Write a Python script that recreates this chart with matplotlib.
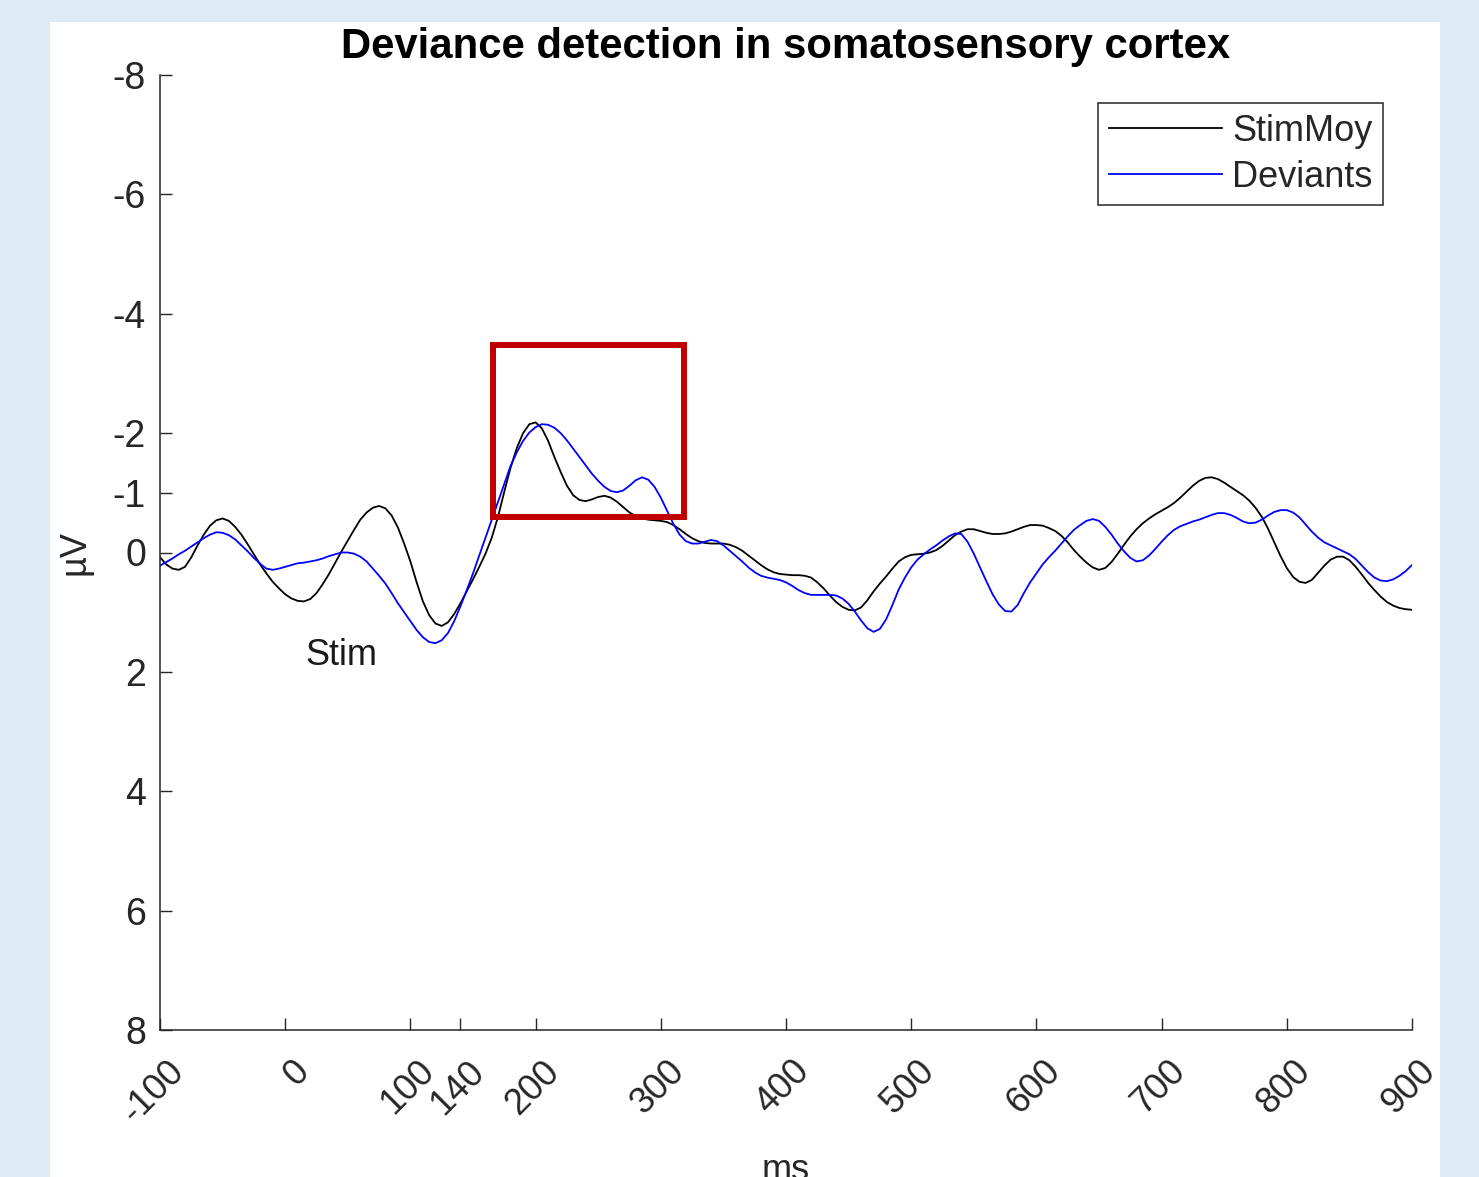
import numpy as np
import matplotlib
matplotlib.use('Agg')
import matplotlib.pyplot as plt
import matplotlib.transforms as mtransforms
from matplotlib.patches import Rectangle

plt.rcParams['font.family'] = ['Liberation Sans', 'DejaVu Sans']
plt.rcParams['axes.unicode_minus'] = False

# time axis (ms) and averaged potentials (uV), one value every 5 ms
t = np.arange(-100, 901, 5)

stim_moy = [0.08, 0.20, 0.27, 0.29, 0.24, 0.08, -0.12, -0.30, -0.45, -0.54,
            -0.57, -0.53, -0.43, -0.30, -0.14, 0.03, 0.20, 0.35, 0.49, 0.60,
            0.70, 0.77, 0.81, 0.82, 0.78, 0.68, 0.53, 0.36, 0.17, -0.02,
            -0.20, -0.38, -0.55, -0.67, -0.75, -0.78, -0.74, -0.62, -0.42, -0.15,
            0.15, 0.50, 0.82, 1.05, 1.19, 1.23, 1.17, 1.03, 0.85, 0.65,
            0.45, 0.24, 0.02, -0.25, -0.60, -1.02, -1.42, -1.75, -2.00, -2.15,
            -2.18, -2.08, -1.87, -1.60, -1.35, -1.12, -0.96, -0.88, -0.86, -0.89,
            -0.93, -0.95, -0.92, -0.85, -0.76, -0.67, -0.61, -0.57, -0.55, -0.54,
            -0.53, -0.51, -0.46, -0.39, -0.31, -0.24, -0.19, -0.16, -0.15, -0.15,
            -0.15, -0.13, -0.09, -0.03, 0.05, 0.13, 0.21, 0.28, 0.33, 0.36,
            0.37, 0.38, 0.38, 0.39, 0.42, 0.50, 0.60, 0.72, 0.83, 0.91,
            0.96, 0.97, 0.92, 0.80, 0.65, 0.52, 0.40, 0.27, 0.15, 0.08,
            0.04, 0.03, 0.02, 0.00, -0.04, -0.11, -0.20, -0.29, -0.35, -0.39,
            -0.39, -0.36, -0.33, -0.31, -0.31, -0.32, -0.35, -0.39, -0.43, -0.46,
            -0.46, -0.45, -0.41, -0.36, -0.28, -0.17, -0.04, 0.07, 0.17, 0.25,
            0.29, 0.26, 0.16, 0.02, -0.13, -0.27, -0.39, -0.49, -0.57, -0.64,
            -0.70, -0.76, -0.83, -0.92, -1.02, -1.12, -1.20, -1.25, -1.26, -1.23,
            -1.17, -1.10, -1.03, -0.96, -0.87, -0.75, -0.60, -0.40, -0.17, 0.06,
            0.26, 0.41, 0.49, 0.51, 0.46, 0.34, 0.22, 0.12, 0.07, 0.07,
            0.13, 0.24, 0.37, 0.51, 0.63, 0.74, 0.83, 0.89, 0.93, 0.95,
            0.96]

deviants = [0.22, 0.16, 0.10, 0.03, -0.03, -0.10, -0.17, -0.24, -0.30, -0.34,
            -0.33, -0.29, -0.22, -0.12, -0.02, 0.09, 0.19, 0.27, 0.29, 0.27,
            0.24, 0.21, 0.18, 0.17, 0.15, 0.13, 0.10, 0.06, 0.03, 0.00,
            0.00, 0.02, 0.07, 0.15, 0.27, 0.39, 0.52, 0.68, 0.85, 1.00,
            1.15, 1.30, 1.42, 1.50, 1.52, 1.47, 1.35, 1.15, 0.90, 0.63,
            0.35, 0.05, -0.25, -0.55, -0.85, -1.15, -1.45, -1.68, -1.87, -2.01,
            -2.10, -2.15, -2.14, -2.09, -2.00, -1.88, -1.74, -1.60, -1.46, -1.32,
            -1.20, -1.10, -1.03, -1.01, -1.04, -1.12, -1.21, -1.26, -1.22, -1.10,
            -0.92, -0.70, -0.48, -0.30, -0.19, -0.15, -0.15, -0.18, -0.21, -0.19,
            -0.12, -0.03, 0.06, 0.15, 0.25, 0.33, 0.39, 0.42, 0.44, 0.46,
            0.50, 0.56, 0.63, 0.68, 0.71, 0.71, 0.71, 0.71, 0.72, 0.77,
            0.86, 0.99, 1.14, 1.27, 1.33, 1.28, 1.12, 0.88, 0.62, 0.42,
            0.25, 0.12, 0.03, -0.05, -0.12, -0.20, -0.27, -0.32, -0.31, -0.18,
            0.02, 0.25, 0.48, 0.70, 0.87, 0.98, 0.99, 0.88, 0.68, 0.50,
            0.35, 0.20, 0.08, -0.03, -0.15, -0.27, -0.38, -0.46, -0.53, -0.56,
            -0.53, -0.43, -0.30, -0.15, -0.02, 0.09, 0.15, 0.13, 0.05, -0.06,
            -0.18, -0.29, -0.38, -0.44, -0.48, -0.52, -0.55, -0.59, -0.63, -0.66,
            -0.66, -0.63, -0.58, -0.52, -0.49, -0.50, -0.55, -0.62, -0.68, -0.71,
            -0.71, -0.67, -0.59, -0.47, -0.35, -0.25, -0.17, -0.12, -0.07, -0.02,
            0.03, 0.11, 0.22, 0.33, 0.42, 0.47, 0.48, 0.45, 0.39, 0.31,
            0.21]

xticks = [-100, 0, 100, 140, 200, 300, 400, 500, 600, 700, 800, 900]
yticks = [-8, -6, -4, -2, -1, 0, 2, 4, 6, 8]

# window of interest around the deviance response
win_t = (166, 318.5)
win_v = (-3.47, -0.595)

axcol = '#262626'

fig = plt.figure(figsize=(14.79, 11.77), dpi=100, facecolor='#dde9f5')
# white panel behind the axes
fig.patches.append(Rectangle((50 / 1479, 0), 1390 / 1479, 1155 / 1177,
                             transform=fig.transFigure, facecolor='white',
                             edgecolor='none', zorder=-10))

ax = fig.add_axes([160 / 1479, 147 / 1177, 1252 / 1479, 955 / 1177])
ax.set_facecolor('white')

ax.plot(t, stim_moy, color='black', lw=1.3, label='StimMoy')
ax.plot(t, deviants, color='blue', lw=1.3, label='Deviants')

ax.add_patch(Rectangle((win_t[0], win_v[0]), win_t[1] - win_t[0],
                       win_v[1] - win_v[0], fill=False, edgecolor='#c00000',
                       lw=4.3, zorder=5))

ax.text(16, 1.73, 'Stim', fontsize=26, ha='left', va='center', color='#1a1a1a')

ax.set_xlim(-100, 900)
ax.set_ylim(8, -8)
ax.set_xticks(xticks)
ax.set_yticks(yticks)
ax.set_xticklabels([str(v) for v in xticks], rotation=45, ha='right',
                   va='top', rotation_mode='anchor')
ax.tick_params(direction='in', length=8.5, width=1.0, color=axcol,
               labelcolor=axcol, labelsize=26, pad=8)
ax.tick_params(axis='x', pad=10)
ax.tick_params(axis='y', labelsize=27, pad=10)

# nudge the rotated x labels right and down
shift = mtransforms.ScaledTranslation(6 / 100, -10 / 100, fig.dpi_scale_trans)
for lab in ax.get_xticklabels():
    lab.set_transform(lab.get_transform() + shift)

for side in ['top', 'right']:
    ax.spines[side].set_visible(False)
for side in ['bottom', 'left']:
    ax.spines[side].set_color(axcol)
    ax.spines[side].set_linewidth(1.1)

ax.set_title('Deviance detection in somatosensory cortex', fontsize=30.2,
             fontweight='bold', pad=12)
ax.set_xlabel('ms', fontsize=26, color=axcol)
ax.xaxis.set_label_coords(0.5, -0.129)
ax.set_ylabel('µV', fontsize=26, color=axcol)
ax.yaxis.set_label_coords(-0.054, 0.5)

leg = ax.legend(loc='upper right', bbox_to_anchor=(0.977, 0.9707),
                borderaxespad=0, fontsize=26, handlelength=3.13,
                handletextpad=0.28, labelspacing=0.3, borderpad=0.3,
                fancybox=False, framealpha=1)
leg.get_frame().set_edgecolor(axcol)
leg.get_frame().set_linewidth(1.1)
for txt in leg.get_texts():
    txt.set_color(axcol)

fig.savefig('out.png', dpi=100, facecolor=fig.get_facecolor())
